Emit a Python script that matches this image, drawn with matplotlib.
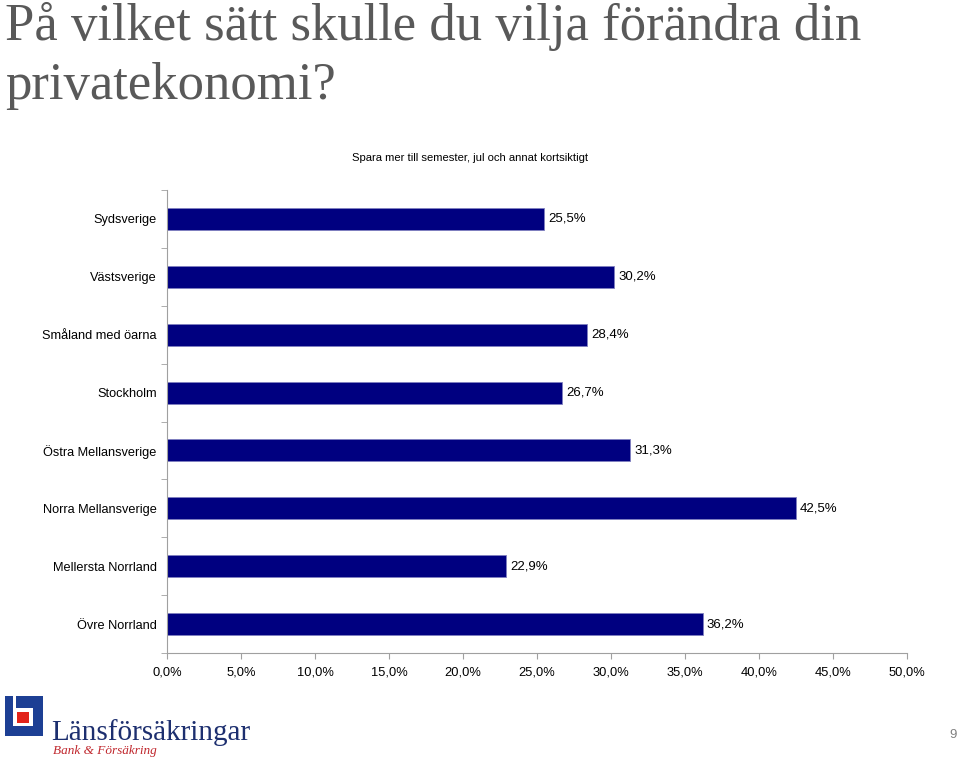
import matplotlib
matplotlib.use("Agg")
import matplotlib.pyplot as plt
from matplotlib.patches import Rectangle
from matplotlib.ticker import MultipleLocator, FuncFormatter

categories = ["Sydsverige", "Västsverige", "Småland med öarna", "Stockholm",
              "Östra Mellansverige", "Norra Mellansverige", "Mellersta Norrland", "Övre Norrland"]
values = [25.5, 30.2, 28.4, 26.7, 31.3, 42.5, 22.9, 36.2]

W, H = 960, 761
fig = plt.figure(figsize=(W / 100, H / 100), dpi=100)
fig.patch.set_facecolor("white")

def fx(px):
    return px / W

def fy(py):
    return 1 - py / H

# Title
fig.text(fx(5), fy(40), "På vilket sätt skulle du vilja förändra din", fontsize=38,
         family="Liberation Serif", color="#595959", ha="left", va="baseline")
fig.text(fx(5), fy(99), "privatekonomi?", fontsize=38,
         family="Liberation Serif", color="#595959", ha="left", va="baseline")

# Axes
left, right, top, bottom = 167, 907, 190, 653
ax = fig.add_axes([fx(left), fy(bottom), fx(right - left), (bottom - top) / H])
n = len(categories)
ypos = list(range(n))
ax.barh(ypos, values, height=0.38, color="#000080", edgecolor="#8080c0", linewidth=0.6)
ax.set_ylim(n - 0.5, -0.5)
ax.set_xlim(0, 50)
for y, v in zip(ypos, values):
    ax.text(v + 0.27, y, f"{v:.1f}%".replace(".", ","), fontsize=9.5,
            family="Liberation Sans", ha="left", va="center", color="black")

ax.set_yticks(ypos)
ax.set_yticklabels(categories, family="Liberation Sans", fontsize=9.2)
ax.set_yticks([i - 0.5 for i in range(n + 1)], minor=True)
ax.tick_params(axis="y", which="major", length=0, pad=7.5)
ax.tick_params(axis="y", which="minor", length=4, color="#a0a0a0", direction="out")
ax.xaxis.set_major_locator(MultipleLocator(5))
ax.xaxis.set_major_formatter(FuncFormatter(lambda v, p: f"{v:.1f}%".replace(".", ",")))
ax.tick_params(axis="x", length=4, color="#a0a0a0", labelsize=9.3, pad=6)
for lbl in ax.get_xticklabels():
    lbl.set_family("Liberation Sans")
for s in ["top", "right"]:
    ax.spines[s].set_visible(False)
for s in ["left", "bottom"]:
    ax.spines[s].set_color("#a0a0a0")
    ax.spines[s].set_linewidth(0.8)

fig.text(fx(470), fy(158), "Spara mer till semester, jul och annat kortsiktigt",
         family="Liberation Sans", fontsize=8.1, ha="center", va="center")

# Logo
lax = fig.add_axes([0, 0, 1, 1], facecolor="none")
lax.set_xlim(0, W)
lax.set_ylim(H, 0)
lax.axis("off")
blue = "#1d3f94"
lax.add_patch(Rectangle((5, 696), 38, 40, color=blue, lw=0))
lax.add_patch(Rectangle((13, 708), 20, 18, color="white", lw=0))
lax.add_patch(Rectangle((13, 696), 3, 12, color="white", lw=0))
lax.add_patch(Rectangle((17, 711.5), 11.5, 11.5, color="#e2231a", lw=0))
lax.text(51, 740, "Länsförsäkringar", family="Liberation Serif", fontsize=21,
         color="#1d2f6f", ha="left", va="baseline")
lax.text(53, 754, "Bank & Försäkring", family="Liberation Serif", style="italic",
         fontsize=9.5, color="#c0272d", ha="left", va="baseline")
lax.text(953, 738, "9", family="Liberation Sans", fontsize=9.5, color="#808080",
         ha="center", va="baseline")

fig.savefig("out.png", dpi=100)
